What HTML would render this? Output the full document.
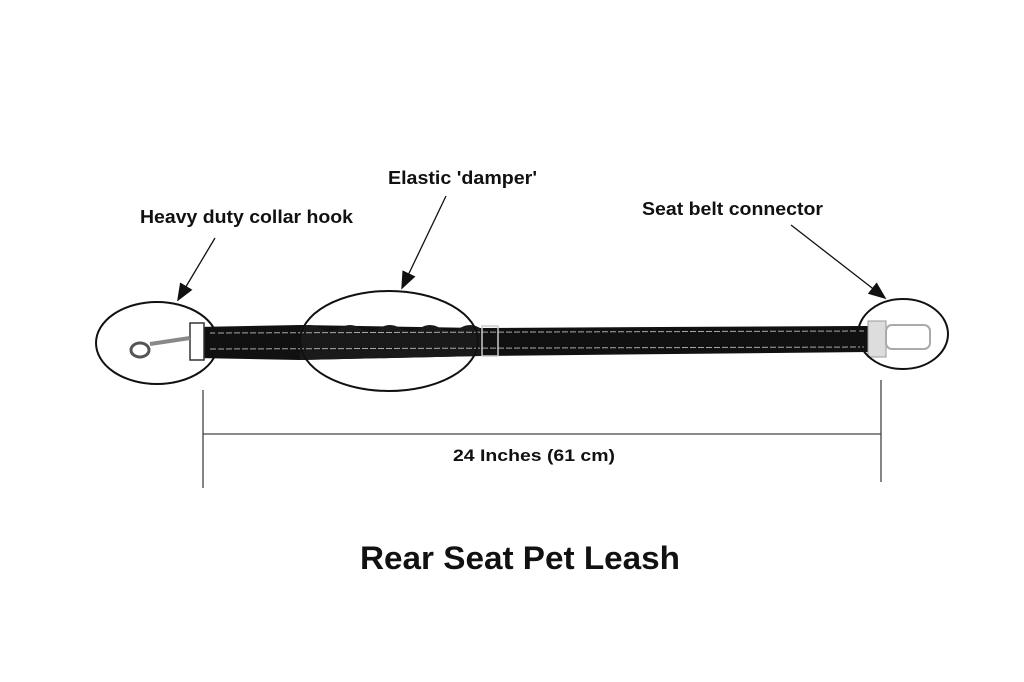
<!DOCTYPE html>
<html><head><meta charset="utf-8"><style>
html,body{margin:0;padding:0;background:#fff;width:1024px;height:682px;overflow:hidden}
text{font-family:"Liberation Sans",Arial,sans-serif;font-weight:bold;fill:#111}
</style></head><body>
<svg width="1024" height="682" viewBox="0 0 1024 682" xmlns="http://www.w3.org/2000/svg">
<defs>
<marker id="ah2" viewBox="0 0 10 10" markerWidth="18" markerHeight="18" refX="9" refY="5" orient="auto" markerUnits="userSpaceOnUse">
<path d="M0,1 L10,5 L0,9 Z" fill="#111"/></marker>
</defs>
<text x="140" y="223" font-size="18" textLength="213" lengthAdjust="spacingAndGlyphs">Heavy duty collar hook</text>
<text x="388" y="184" font-size="18" textLength="149" lengthAdjust="spacingAndGlyphs">Elastic 'damper'</text>
<text x="642" y="215" font-size="18" textLength="181" lengthAdjust="spacingAndGlyphs">Seat belt connector</text>
<line x1="215" y1="238" x2="178" y2="300" stroke="#111" stroke-width="1.3" marker-end="url(#ah2)"/>
<line x1="446" y1="196" x2="402" y2="288" stroke="#111" stroke-width="1.3" marker-end="url(#ah2)"/>
<line x1="791" y1="225" x2="885" y2="298" stroke="#111" stroke-width="1.3" marker-end="url(#ah2)"/>
<path d="M196,327 L300,325 L480,328 L860,326 L870,326 L870,352 L480,356 L300,360 L196,358 Z" fill="#111"/>
<path d="M300,328 q10,-6 20,0 t20,0 t20,0 t20,0 t20,0 t20,0 t20,0 t20,0 t20,0 L480,356 L300,360 Z" fill="#1a1a1a"/>
<line x1="210" y1="333" x2="865" y2="331" stroke="#aaa" stroke-width="1" stroke-dasharray="6,2"/>
<line x1="210" y1="349" x2="865" y2="347" stroke="#aaa" stroke-width="1" stroke-dasharray="6,2"/>
<rect x="482" y="326" width="16" height="30" fill="none" stroke="#ccc" stroke-width="1.5"/>
<rect x="190" y="323" width="14" height="37" fill="#fff" stroke="#333" stroke-width="1.5"/>
<path d="M190,338 L150,344" stroke="#888" stroke-width="4"/>
<ellipse cx="140" cy="350" rx="9" ry="7" fill="none" stroke="#555" stroke-width="3"/>
<rect x="868" y="321" width="18" height="36" fill="#ddd" stroke="#999"/>
<rect x="886" y="325" width="44" height="24" rx="6" fill="#fff" stroke="#aaa" stroke-width="2"/>
<ellipse cx="157" cy="343" rx="61" ry="41" fill="none" stroke="#111" stroke-width="2"/>
<ellipse cx="389" cy="341" rx="89" ry="50" fill="none" stroke="#111" stroke-width="2"/>
<ellipse cx="903" cy="334" rx="45" ry="35" fill="none" stroke="#111" stroke-width="2"/>
<line x1="203" y1="390" x2="203" y2="488" stroke="#333" stroke-width="1.2"/>
<line x1="881" y1="380" x2="881" y2="482" stroke="#333" stroke-width="1.2"/>
<line x1="203" y1="434" x2="881" y2="434" stroke="#444" stroke-width="1.3"/>
<text x="453" y="461" font-size="17" textLength="162" lengthAdjust="spacingAndGlyphs">24 Inches (61 cm)</text>
<text x="360" y="569" font-size="32" textLength="320" lengthAdjust="spacingAndGlyphs">Rear Seat Pet Leash</text>
</svg>
</body></html>
